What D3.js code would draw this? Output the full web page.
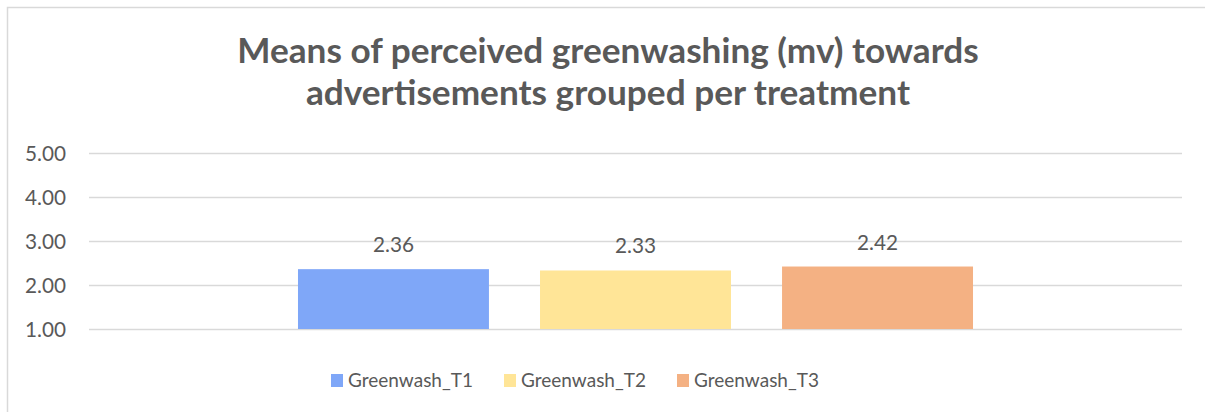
<!DOCTYPE html>
<html><head><meta charset="utf-8">
<script src="https://cdn.jsdelivr.net/npm/d3@7"></script>
<style>body{margin:0;background:#fff}svg{display:block}text{font-family:Lato,"Liberation Sans",Arial,sans-serif;fill:#595959}</style>
</head><body><svg id="c" width="1205" height="412"></svg>
<script>
const series = ["Greenwash_T1","Greenwash_T2","Greenwash_T3"];
const values = [2.36, 2.33, 2.42];
const colors = ["#7fa7f8","#ffe597","#f4b183"];
const yTicks = [1,2,3,4,5];
const titleLines = ["Means of perceived greenwashing (mv) towards","advertisements grouped per treatment"];

const svg = d3.select("#c");
svg.append("rect").attr("x",7.5).attr("y",7.5).attr("width",1210).attr("height",420)
  .attr("fill","#fff").attr("stroke","#d9d9d9").attr("stroke-width",1.5);

// measure a string at 100px and return size giving target width
function fitSize(str, target, weight){
  const t = svg.append("text").style("font-size","100px").style("font-weight",weight||"normal").text(str);
  const w = t.node().getComputedTextLength(); t.remove();
  return 100*target/w;
}

const L=89, R=1182;
const y = d3.scaleLinear().domain([1,5]).range([329,153]);
const x = d3.scaleBand().domain(["g"]).range([L,R]).paddingInner(0).paddingOuter(0.3096);
const xs = d3.scaleBand().domain(series).range([x("g"), x("g")+x.bandwidth()]).paddingInner(0.211);

const numSize = fitSize("5.00", 41);
const ax = svg.append("g").attr("transform",`translate(${L},0)`)
  .call(d3.axisLeft(y).tickValues(yTicks).tickFormat(d3.format(".2f")).tickSize(-(R-L)).tickPadding(23));
ax.select(".domain").remove();
ax.selectAll(".tick line").attr("stroke","#d9d9d9").attr("stroke-width",1.5);
ax.selectAll(".tick text").style("font-size",numSize+"px").style("font-family","Lato, 'Liberation Sans', sans-serif").attr("fill","#595959").attr("dy","0.35em");

svg.selectAll("rect.bar").data(values).join("rect").attr("class","bar")
  .attr("x",(d,i)=>xs(series[i])).attr("width",xs.bandwidth())
  .attr("y",d=>y(d)).attr("height",d=>y(1)-y(d)).attr("fill",(d,i)=>colors[i]);

svg.selectAll("text.lbl").data(values).join("text").attr("class","lbl")
  .attr("x",(d,i)=>xs(series[i])+xs.bandwidth()/2).attr("y",d=>y(d)-17)
  .attr("text-anchor","middle").style("font-size",numSize+"px").text(d=>d.toFixed(2));

const tSize = fitSize(titleLines[0], 742, "bold");
svg.selectAll("text.title").data(titleLines).join("text").attr("class","title")
  .attr("x",608).attr("y",(d,i)=>63+i*42).attr("text-anchor","middle")
  .style("font-size",tSize+"px").style("font-weight","bold").text(d=>d);

const lSize = fitSize(series[0], 125);
const legX=[331,504,677];
const lg = svg.selectAll("g.leg").data(series).join("g").attr("class","leg")
  .attr("transform",(d,i)=>`translate(${legX[i]},374)`);
lg.append("rect").attr("width",12).attr("height",13).attr("fill",(d,i)=>colors[i]);
lg.append("text").attr("x",17).attr("y",13).style("font-size",lSize+"px").text(d=>d);
</script></body></html>
